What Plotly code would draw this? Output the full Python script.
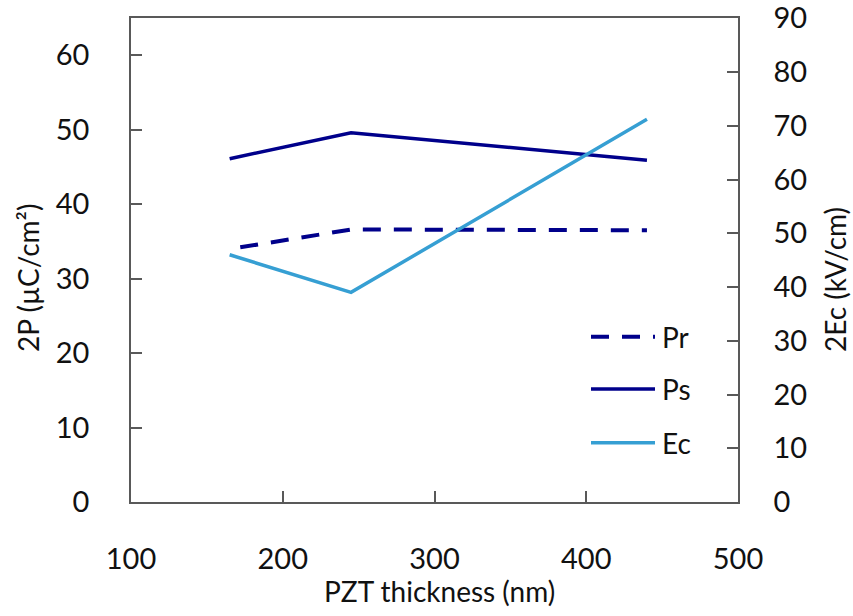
import plotly.graph_objects as go

# PZT film thickness (nm) and measured values
thickness = [165, 245, 440]
pr_thickness = [172, 245, 440]
pr_values = [34.2, 36.6, 36.5]      # 2Pr (µC/cm²)
ps_values = [46.1, 49.6, 45.9]      # 2Ps (µC/cm²)
ec_values = [46.0, 39.0, 71.2]      # 2Ec (kV/cm)

x_ticks = [100, 200, 300, 400, 500]
left_ticks = [0, 10, 20, 30, 40, 50, 60]
right_ticks = [0, 10, 20, 30, 40, 50, 60, 70, 80, 90]

NAVY = "#00008B"
SKY = "#369FD3"
AXIS = "#595959"
TEXT = "#111111"
FONT = "Lato"
DASH = "18px,13px"

fig = go.Figure()
fig.add_trace(go.Scatter(x=pr_thickness, y=pr_values, mode="lines", name="Pr",
                         line=dict(color=NAVY, width=4, dash=DASH)))
fig.add_trace(go.Scatter(x=thickness, y=ps_values, mode="lines", name="Ps",
                         line=dict(color=NAVY, width=3.5)))
fig.add_trace(go.Scatter(x=thickness, y=ec_values, mode="lines", name="Ec",
                         line=dict(color=SKY, width=3.5), yaxis="y2"))

axis_common = dict(showline=True, linecolor=AXIS, linewidth=1.5, ticks="inside",
                   ticklen=11, tickwidth=1.5, tickcolor=AXIS, showgrid=False,
                   zeroline=False, ticklabeloverflow="allow", automargin=False,
                   tickfont=dict(family=FONT, size=29, color=TEXT))

fig.update_layout(
    width=853, height=616,
    margin=dict(l=131, r=115, t=18, b=114),
    paper_bgcolor="white", plot_bgcolor="white",
    showlegend=False,
    xaxis=dict(range=[100, 500], tickvals=x_ticks, mirror=True,
               ticklabelstandoff=30, **axis_common),
    yaxis=dict(range=[0, 65], tickvals=left_ticks, ticklabelstandoff=34,
               **axis_common),
    yaxis2=dict(range=[0, 90.05], tickvals=right_ticks, overlaying="y", side="right",
                ticklabelstandoff=28, **axis_common),
)

title_font = dict(family=FONT, size=28, color=TEXT)
fig.add_annotation(text="PZT thickness (nm)", xref="paper", yref="paper",
                   x=(439.5 - 131) / 607, y=(502 - 591) / 484,
                   xanchor="center", yanchor="middle", showarrow=False, font=title_font)
fig.add_annotation(text="2P (µC/cm²)", xref="paper", yref="paper",
                   x=(28 - 131) / 607, y=(502 - 278) / 484, textangle=-90,
                   xanchor="center", yanchor="middle", showarrow=False, font=title_font)
fig.add_annotation(text="2Ec (kV/cm)", xref="paper", yref="paper",
                   x=(835 - 131) / 607, y=(502 - 280) / 484, textangle=-90,
                   xanchor="center", yanchor="middle", showarrow=False, font=title_font)

# Legend drawn by hand so the sample lines can be longer than Plotly's default
legend_items = [("Pr", NAVY, 4, DASH, 336.7), ("Ps", NAVY, 3.5, "solid", 389),
                ("Ec", SKY, 3.5, "solid", 442.7)]
for label, color, width, dash, py in legend_items:
    yp = (502 - py) / 484
    fig.add_shape(type="line", xref="paper", yref="paper",
                  x0=(591 - 131) / 607, x1=(655 - 131) / 607, y0=yp, y1=yp,
                  line=dict(color=color, width=width, dash=dash))
    fig.add_annotation(text=label, xref="paper", yref="paper",
                       x=(660 - 131) / 607, y=yp, xanchor="left", yanchor="middle",
                       showarrow=False, font=dict(family=FONT, size=28, color=TEXT))

fig.write_html("out.html")
